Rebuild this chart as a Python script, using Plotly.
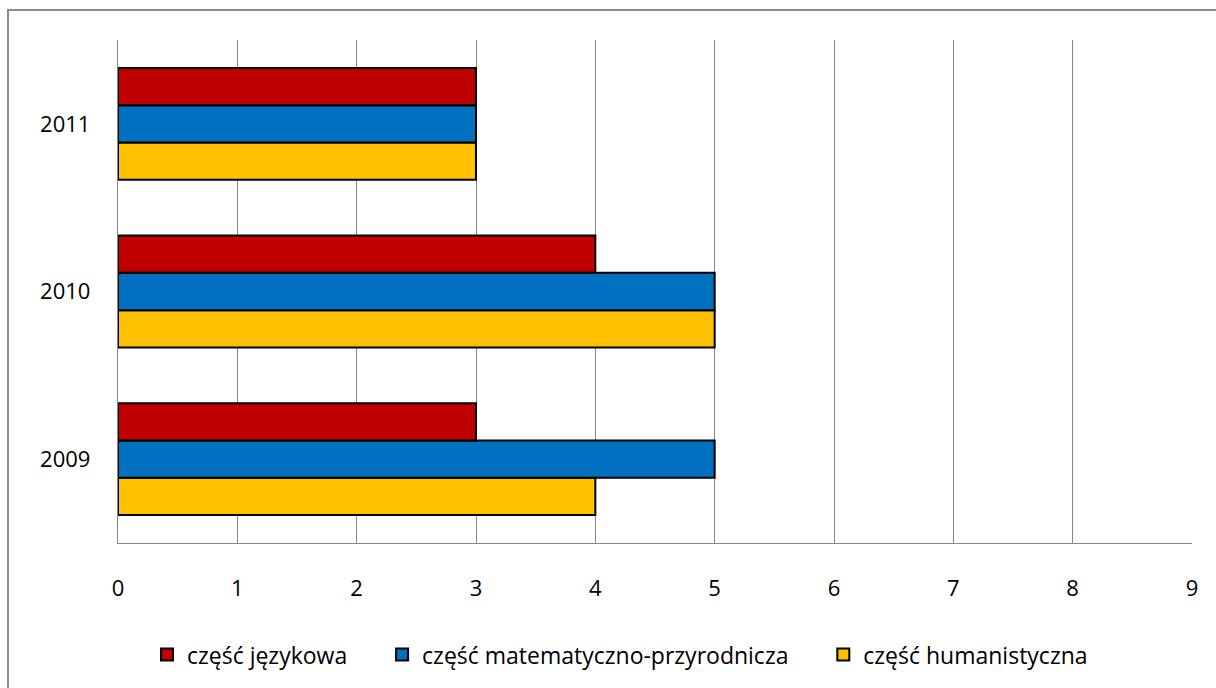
import plotly.graph_objects as go

years = ["2009", "2010", "2011"]
jezykowa = [3, 4, 3]
matematyczno = [5, 5, 3]
humanistyczna = [4, 5, 3]

NBSP = "\u00a0" * 5  # extra spacing between legend entries
series = [
    ("część humanistyczna", humanistyczna, "#FFC000"),
    ("część matematyczno-przyrodnicza" + NBSP, matematyczno, "#0070C0"),
    ("część językowa" + NBSP, jezykowa, "#C00000"),
]

fig = go.Figure()
for name, vals, color in series:
    fig.add_trace(go.Bar(
        y=years, x=vals, name=name, orientation="h",
        marker=dict(color=color, line=dict(color="black", width=2)),
    ))

font = "Open Sans, Noto Sans, sans-serif"
fs = 22
fig.update_layout(
    width=1216, height=688,
    margin=dict(l=118, r=24, t=40, b=145),
    barmode="group", bargap=0.333, bargroupgap=0,
    plot_bgcolor="white", paper_bgcolor="white",
    font=dict(family=font, size=fs, color="black"),
    xaxis=dict(range=[0, 9], dtick=1, showgrid=True, gridcolor="#868686", gridwidth=1.3,
               showline=True, linecolor="#868686", linewidth=1.3, zeroline=False,
               ticks="", ticklen=0, tickfont=dict(size=fs), ticklabelstandoff=25),
    yaxis=dict(showline=True, linecolor="#868686", linewidth=1.3, showgrid=False,
               ticks="", tickfont=dict(size=fs), ticklabelstandoff=22),
    legend=dict(orientation="h", traceorder="reversed", x=0.4674, xanchor="center",
                y=-0.222, yanchor="middle", font=dict(size=23), itemsizing="constant",
                itemwidth=30, tracegroupgap=0),
    showlegend=True,
)

# chart frame (right and bottom edges fall outside the page)
fig.add_shape(type="rect", xref="paper", yref="paper",
              x0=-110/1074, x1=1.1, y0=-0.4, y1=1 + 30/503,
              line=dict(color="#8C8C8C", width=2), fillcolor="rgba(0,0,0,0)", layer="below")

fig.write_html("out.html")
